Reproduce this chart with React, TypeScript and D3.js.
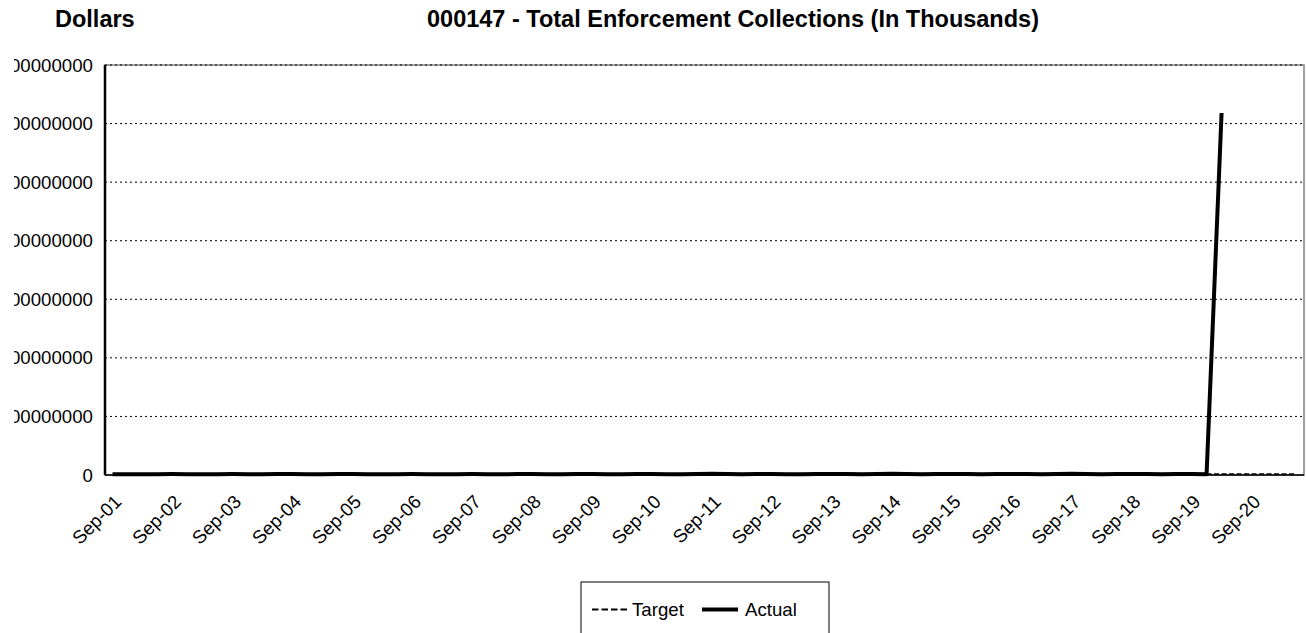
import React from "react";
import * as d3 from "d3";

// Quarterly reporting periods, Sep-01 through Jun-21
const PERIODS: string[] = [
  "Sep-01", "Dec-01",
  "Mar-02", "Jun-02", "Sep-02", "Dec-02",
  "Mar-03", "Jun-03", "Sep-03", "Dec-03",
  "Mar-04", "Jun-04", "Sep-04", "Dec-04",
  "Mar-05", "Jun-05", "Sep-05", "Dec-05",
  "Mar-06", "Jun-06", "Sep-06", "Dec-06",
  "Mar-07", "Jun-07", "Sep-07", "Dec-07",
  "Mar-08", "Jun-08", "Sep-08", "Dec-08",
  "Mar-09", "Jun-09", "Sep-09", "Dec-09",
  "Mar-10", "Jun-10", "Sep-10", "Dec-10",
  "Mar-11", "Jun-11", "Sep-11", "Dec-11",
  "Mar-12", "Jun-12", "Sep-12", "Dec-12",
  "Mar-13", "Jun-13", "Sep-13", "Dec-13",
  "Mar-14", "Jun-14", "Sep-14", "Dec-14",
  "Mar-15", "Jun-15", "Sep-15", "Dec-15",
  "Mar-16", "Jun-16", "Sep-16", "Dec-16",
  "Mar-17", "Jun-17", "Sep-17", "Dec-17",
  "Mar-18", "Jun-18", "Sep-18", "Dec-18",
  "Mar-19", "Jun-19", "Sep-19", "Dec-19",
  "Mar-20", "Jun-20", "Sep-20", "Dec-20",
  "Mar-21", "Jun-21",
];

// Axis labels shown along the bottom (every fourth period)
const TICK_LABELS: string[] = [
  "Sep-01", "Sep-02", "Sep-03", "Sep-04", "Sep-05", "Sep-06", "Sep-07",
  "Sep-08", "Sep-09", "Sep-10", "Sep-11", "Sep-12", "Sep-13", "Sep-14",
  "Sep-15", "Sep-16", "Sep-17", "Sep-18", "Sep-19", "Sep-20",
];

// Actual collections (thousands), Sep-01 .. Mar-20
const ACTUAL: number[] = [
  1320000, 1185000, 1410000, 1260000, 1530000, 1380000, 1240000, 1460000, 1610000, 1350000,
  1290000, 1500000, 1720000, 1440000, 1310000, 1580000, 1650000, 1400000, 1270000, 1490000,
  1560000, 1380000, 1230000, 1470000, 1690000, 1420000, 1300000, 1550000, 1780000, 1460000,
  1340000, 1620000, 1530000, 1390000, 1280000, 1600000, 1850000, 1480000, 1350000, 1700000,
  1940000, 1520000, 1410000, 1660000, 1590000, 1430000, 1320000, 1570000, 1760000, 1510000,
  1380000, 1640000, 2050000, 1590000, 1450000, 1720000, 1880000, 1560000, 1420000, 1690000,
  1810000, 1530000, 1400000, 1670000, 1990000, 1620000, 1480000, 1740000, 1700000, 1510000,
  1390000, 1650000, 1580000, 1460000,
  618000000,
];

// Target (thousands), Dec-19 .. Jun-21
const TARGET_START = "Dec-19";
const TARGET: number[] = [1800000, 1800000, 1800000, 1800000, 1800000, 1800000, 1800000];

const Y_TICKS: number[] = [0, 100000000, 200000000, 300000000, 400000000, 500000000, 600000000, 700000000];

const W = 1306;
const H = 633;
const LEFT = 105;
const RIGHT = 1304;
const TOP = 65;
const BOTTOM = 475;

export default function App() {
  const x = d3.scaleBand<string>().domain(PERIODS).range([LEFT, RIGHT]).padding(0);
  const cx = (p: string) => (x(p) as number) + x.bandwidth() / 2;
  const y = d3.scaleLinear().domain([0, 700000000]).range([BOTTOM, TOP]);

  const line = d3
    .line<[string, number]>()
    .x((d) => cx(d[0]))
    .y((d) => y(d[1]));

  const actualPts: [string, number][] = ACTUAL.map((v, i) => [PERIODS[i], v]);
  const t0 = PERIODS.indexOf(TARGET_START);
  const targetPts: [string, number][] = TARGET.map((v, i) => [PERIODS[t0 + i], v]);

  const font = "Arial, 'Liberation Sans', Helvetica, sans-serif";

  return (
    <svg
      width={W}
      height={H}
      style={{ position: "absolute", left: 0, top: 0, background: "#fff" }}
      fontFamily={font}
    >
      <defs>
        <clipPath id="ylab-clip">
          <rect x={14} y={0} width={W} height={H} />
        </clipPath>
      </defs>
      <rect x={0} y={0} width={W} height={H} fill="#fff" />

      {/* titles */}
      <text x={55} y={27} fontSize={23.5} fontWeight="bold" fill="#000">
        Dollars
      </text>
      <text x={733} y={27} fontSize={23.5} fontWeight="bold" fill="#000" textAnchor="middle">
        000147 - Total Enforcement Collections (In Thousands)
      </text>

      {/* plot frame */}
      <rect
        x={LEFT}
        y={TOP}
        width={RIGHT - LEFT}
        height={BOTTOM - TOP}
        fill="none"
        stroke="#808080"
        strokeWidth={1.5}
      />

      {/* gridlines */}
      {Y_TICKS.filter((t) => t > 0).map((t) => (
        <line
          key={t}
          x1={LEFT}
          x2={RIGHT}
          y1={y(t)}
          y2={y(t)}
          stroke="#000"
          strokeWidth={1}
          strokeDasharray="2,3"
        />
      ))}

      {/* axes */}
      <line x1={LEFT} x2={LEFT} y1={TOP} y2={BOTTOM} stroke="#000" strokeWidth={2.5} />
      <line x1={LEFT} x2={RIGHT} y1={BOTTOM} y2={BOTTOM} stroke="#000" strokeWidth={1.5} />

      {/* y labels */}
      <g clipPath="url(#ylab-clip)">
        {Y_TICKS.map((t) => (
          <text
            key={t}
            x={93}
            y={y(t)}
            dy="0.35em"
            fontSize={18.67}
            textAnchor="end"
            fill="#000"
          >
            {String(t)}
          </text>
        ))}
      </g>

      {/* x labels */}
      {TICK_LABELS.map((lab) => {
        const px = cx(lab) + 10;
        const py = BOTTOM + 28;
        return (
          <text
            key={lab}
            transform={`translate(${px},${py}) rotate(-45)`}
            fontSize={18.67}
            textAnchor="end"
            fill="#000"
          >
            {lab}
          </text>
        );
      })}

      {/* series */}
      <path
        d={line(targetPts) || ""}
        fill="none"
        stroke="#000"
        strokeWidth={1.5}
        strokeDasharray="5,2.5"
      />
      <path
        d={line(actualPts) || ""}
        fill="none"
        stroke="#000"
        strokeWidth={4}
        strokeLinejoin="round"
      />

      {/* legend */}
      <g>
        <rect x={581} y={582} width={248} height={70} fill="#fff" stroke="#000" strokeWidth={1} />
        <line x1={592} x2={628} y1={609.5} y2={609.5} stroke="#000" strokeWidth={2} strokeDasharray="6.5,3" />
        <text x={632} y={616} fontSize={18.67} fill="#000">
          Target
        </text>
        <line x1={702} x2={738} y1={609.5} y2={609.5} stroke="#000" strokeWidth={4} />
        <text x={745} y={616} fontSize={18.67} fill="#000">
          Actual
        </text>
      </g>
    </svg>
  );
}
